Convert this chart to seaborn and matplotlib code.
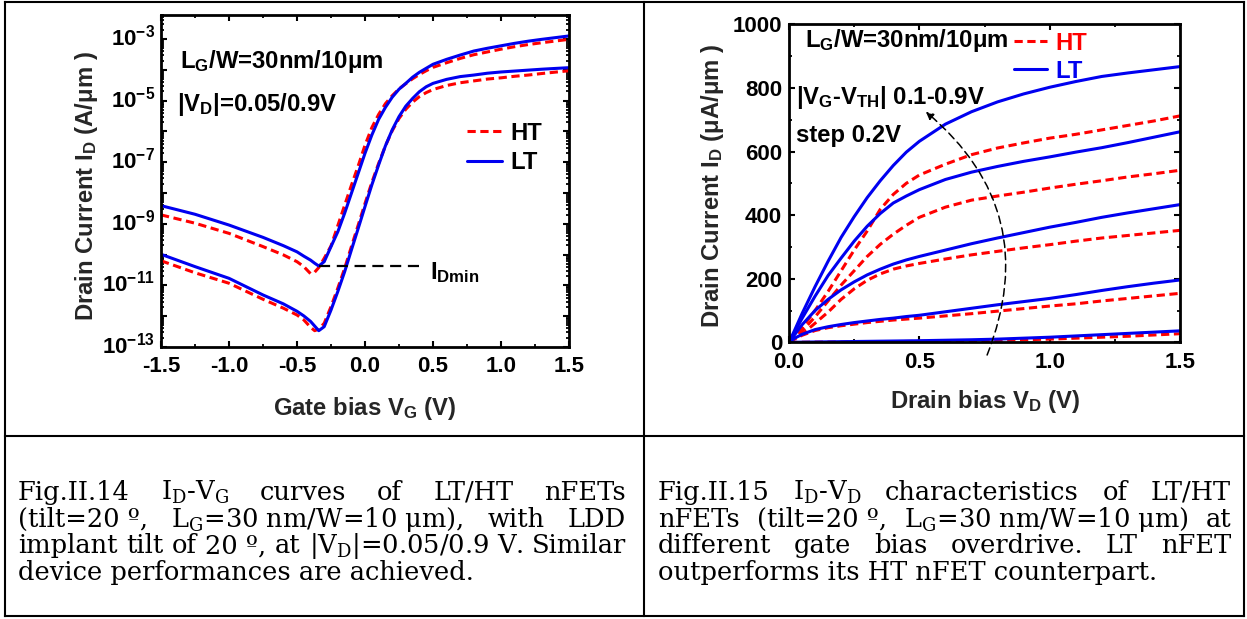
import numpy as np
import pandas as pd
import matplotlib
matplotlib.use("Agg")
import matplotlib.pyplot as plt
import matplotlib.transforms as mtransforms
import seaborn as sns
from matplotlib.lines import Line2D
from matplotlib.ticker import FixedLocator, MultipleLocator, LogLocator, NullFormatter, FixedFormatter

# ---------------- data: I_D - V_G (log10 of A/um) ----------------
vg = [-1.5, -1.25, -1.0, -0.75, -0.6, -0.5, -0.45, -0.4, -0.37, -0.34, -0.3, -0.25,
      -0.2, -0.15, -0.1, -0.05, 0.0, 0.05, 0.1, 0.15, 0.2, 0.25, 0.3, 0.35, 0.4,
      0.45, 0.5, 0.6, 0.7, 0.8, 0.9, 1.0, 1.1, 1.2, 1.3, 1.5]
lt_vd_high = [-8.41, -8.69, -9.04, -9.44, -9.71, -9.91, -10.05, -10.18, -10.28, -10.37,
              -10.23, -9.74, -9.26, -8.66, -8.01, -7.36, -6.71, -6.12, -5.61, -5.22,
              -4.89, -4.63, -4.44, -4.24, -4.08, -3.95, -3.82, -3.66, -3.52, -3.39,
              -3.30, -3.22, -3.14, -3.07, -3.01, -2.90]
ht_vd_high = [-8.71, -8.98, -9.31, -9.74, -10.01, -10.23, -10.39, -10.62, -10.57, -10.42,
              -10.12, -9.72, -9.06, -8.40, -7.75, -7.12, -6.45, -5.88, -5.45, -5.10,
              -4.84, -4.62, -4.45, -4.29, -4.15, -4.03, -3.92, -3.77, -3.63, -3.51,
              -3.42, -3.33, -3.25, -3.18, -3.12, -3.01]
lt_vd_low = [-9.99, -10.39, -10.77, -11.31, -11.60, -11.84, -11.99, -12.17, -12.32, -12.47,
             -12.34, -11.80, -11.20, -10.56, -9.85, -9.15, -8.44, -7.74, -7.09, -6.47,
             -5.95, -5.52, -5.18, -4.93, -4.71, -4.55, -4.44, -4.31, -4.22, -4.17,
             -4.11, -4.07, -4.04, -4.01, -3.98, -3.93]
ht_vd_low = [-10.20, -10.59, -10.93, -11.45, -11.74, -11.96, -12.12, -12.36, -12.47, -12.42,
             -12.23, -11.69, -11.09, -10.45, -9.74, -9.04, -8.34, -7.66, -7.04, -6.47,
             -5.98, -5.58, -5.28, -5.05, -4.87, -4.74, -4.64, -4.51, -4.42, -4.36,
             -4.30, -4.26, -4.21, -4.17, -4.12, -4.03]

# ---------------- data: I_D - V_D (uA/um) ----------------
vd = [0, 0.02, 0.05, 0.1, 0.15, 0.2, 0.25, 0.3, 0.35, 0.4, 0.45, 0.5, 0.6, 0.7, 0.8,
      0.9, 1.0, 1.1, 1.2, 1.3, 1.4, 1.5]
overdrive = [0.9, 0.7, 0.5, 0.3, 0.1]
lt_id = [
    [0, 35, 90, 175, 255, 330, 395, 455, 508, 556, 598, 632, 686, 725, 756, 781, 802, 820, 836, 847, 857, 867],
    [0, 30, 75, 145, 210, 265, 318, 365, 405, 438, 460, 480, 512, 535, 553, 569, 583, 598, 612, 628, 645, 662],
    [0, 22, 55, 100, 135, 165, 190, 212, 230, 246, 259, 270, 290, 310, 328, 345, 362, 377, 393, 407, 420, 433],
    [0, 12, 25, 40, 49, 56, 62, 67, 72, 76, 81, 85, 96, 107, 118, 128, 138, 150, 163, 175, 186, 196],
    [0, 0.2, 0.5, 1, 1.5, 2, 2.5, 3, 3.5, 4, 4.5, 5, 6.5, 8, 10, 13, 16, 20, 24, 28, 32, 36],
]
ht_id = [
    [0, 20, 45, 100, 160, 225, 290, 350, 418, 465, 500, 526, 560, 590, 611, 627, 642, 654, 668, 682, 696, 712],
    [0, 15, 35, 80, 130, 180, 225, 270, 308, 340, 368, 393, 425, 447, 460, 472, 485, 497, 508, 520, 530, 541],
    [0, 10, 25, 60, 95, 135, 168, 195, 215, 230, 240, 248, 262, 275, 286, 297, 307, 318, 328, 336, 344, 352],
    [0, 10, 22, 37, 46, 52, 57, 62, 66, 70, 73, 76, 83, 90, 98, 106, 114, 121, 130, 138, 146, 154],
    [0, 0.1, 0.2, 0.5, 0.8, 1, 1.3, 1.6, 2, 2.3, 2.6, 3, 4, 5, 6.5, 8, 10, 13, 16, 19, 23, 27],
]

# tick labels
vg_ticks = [-1.5, -1.0, -0.5, 0.0, 0.5, 1.0, 1.5]
id_log_exponents = list(range(-13, -2))
id_log_labelled = [-13, -11, -9, -7, -5, -3]
vd_ticks = [0.0, 0.5, 1.0, 1.5]
idlin_ticks = [0, 200, 400, 600, 800, 1000]

# caption text (justified lines as word groups, last line plain)
caption_left = [
    ["Fig.II.14", r"I$_\mathregular{D}$-V$_\mathregular{G}$", "curves", "of", "LT/HT", "nFETs"],
    ["(tilt=20 º,", r"L$_\mathregular{G}$=30 nm/W=10 μm),", "with", "LDD"],
    ["implant", "tilt", "of", "20 º,", "at", r"|V$_\mathregular{D}$|=0.05/0.9 V.", "Similar"],
    "device performances are achieved.",
]
caption_right = [
    ["Fig.II.15", r"I$_\mathregular{D}$-V$_\mathregular{D}$", "characteristics", "of", "LT/HT"],
    ["nFETs", "(tilt=20 º,", r"L$_\mathregular{G}$=30 nm/W=10 μm)", "at"],
    ["different", "gate", "bias", "overdrive.", "LT", "nFET"],
    "outperforms its HT nFET counterpart.",
]

RED = "#ff0000"
BLUE = "#0000f0"

sns.set_theme(style="ticks")
plt.rcParams.update({
    "font.family": ["Liberation Sans", "DejaVu Sans"],
    "font.weight": "bold",
    "axes.unicode_minus": False,
    "mathtext.default": "regular",
    "axes.linewidth": 2.0,
    "axes.edgecolor": "black",
    "xtick.color": "black",
    "ytick.color": "black",
    "text.color": "black",
})

W, H = 1247, 619
fig = plt.figure(figsize=(W / 100, H / 100), dpi=100)
fig.patch.set_facecolor("white")


def px_box(x0, y0, x1, y1):
    return [x0 / W, 1 - y1 / H, (x1 - x0) / W, (y1 - y0) / H]


TICK_FS = 16
LABEL_FS = 17.2

ax1 = fig.add_axes(px_box(161, 15, 569, 347))
ax2 = fig.add_axes(px_box(789, 24.3, 1180, 342.3))

palette = {"HT": RED, "LT": BLUE}
dash_map = {"HT": (2.7, 1.5), "LT": ""}

# ---------------- left: transfer curves ----------------
rows = []
for dev, bias, arr in [("HT", "0.9", ht_vd_high), ("HT", "0.05", ht_vd_low),
                       ("LT", "0.9", lt_vd_high), ("LT", "0.05", lt_vd_low)]:
    for v, e in zip(vg, arr):
        rows.append({"VG": v, "ID": 10.0 ** e, "device": dev, "VD": bias})
df_vg = pd.DataFrame(rows)

sns.lineplot(data=df_vg, x="VG", y="ID", hue="device", style="device", units="VD",
             estimator=None, sort=False, palette=palette, dashes=dash_map,
             hue_order=["HT", "LT"], style_order=["HT", "LT"],
             linewidth=2.2, legend=False, ax=ax1)
ax1.set_yscale("log")
ax1.set_xlim(-1.5, 1.5)
ax1.set_ylim(1e-13, 10 ** -2.22)

ax1.xaxis.set_major_locator(FixedLocator(vg_ticks))
ax1.xaxis.set_minor_locator(MultipleLocator(0.25))
ax1.set_xticklabels([f"{t:.1f}" for t in vg_ticks])
ax1.yaxis.set_major_locator(FixedLocator([10.0 ** e for e in id_log_exponents]))
ax1.yaxis.set_minor_locator(LogLocator(base=10, subs=np.arange(2, 10), numticks=30))
ax1.yaxis.set_minor_formatter(NullFormatter())
ax1.yaxis.set_major_formatter(FixedFormatter(
    [r"10$^{\mathregular{%d}}$" % e if e in id_log_labelled else "" for e in id_log_exponents]))

# I_Dmin marker line from the minimum of the LT high-bias curve
i_min = int(np.argmin(lt_vd_high))
ax1.plot([vg[i_min], 0.41], [10.0 ** lt_vd_high[i_min]] * 2, color="black",
         lw=1.6, dashes=(5, 3))
ax1.text(0.475, 10 ** -10.57, r"I$_\mathregular{Dmin}$", fontsize=LABEL_FS,
         fontweight="bold", va="center", ha="left")

ax1.text(0.047, 0.840, r"L$_\mathregular{G}$/W=30nm/10μm", transform=ax1.transAxes,
         fontsize=LABEL_FS, fontweight="bold", va="baseline")
ax1.text(0.040, 0.712, r"|V$_\mathregular{D}$|=0.05/0.9V", transform=ax1.transAxes,
         fontsize=LABEL_FS, fontweight="bold", va="baseline")

h_ht = Line2D([], [], color=RED, lw=2.2, dashes=(2.7, 1.5))
h_lt = Line2D([], [], color=BLUE, lw=2.2)
ax1.legend([h_ht, h_lt], ["HT", "LT"], loc="center left", bbox_to_anchor=(0.75, 0.599),
           frameon=False, handlelength=1.48, handletextpad=0.35,
           labelspacing=0.28, borderpad=0, borderaxespad=0,
           prop={"weight": "bold", "size": LABEL_FS})

ax1.set_xlabel(r"Gate bias V$_\mathregular{G}$ (V)", fontsize=LABEL_FS, fontweight="bold")
ax1.set_ylabel(r"Drain Current I$_\mathregular{D}$ (A/μm )", fontsize=LABEL_FS,
               fontweight="bold")
ax1.xaxis.set_label_coords(0.5, -0.145)
ax1.yaxis.set_label_coords(-0.15, 0.485)

# ---------------- right: output curves ----------------
rows = []
for dev, sets in [("HT", ht_id), ("LT", lt_id)]:
    for ov, arr in zip(overdrive, sets):
        for v, i in zip(vd, arr):
            rows.append({"VD": v, "ID": i, "device": dev, "VOV": ov})
df_vd = pd.DataFrame(rows)

sns.lineplot(data=df_vd, x="VD", y="ID", hue="device", style="device", units="VOV",
             estimator=None, sort=False, palette=palette, dashes=dash_map,
             hue_order=["HT", "LT"], style_order=["HT", "LT"],
             linewidth=2.2, legend=False, ax=ax2)
ax2.set_xlim(0, 1.5)
ax2.set_ylim(0, 1000)
ax2.xaxis.set_major_locator(FixedLocator(vd_ticks))
ax2.xaxis.set_minor_locator(MultipleLocator(0.25))
ax2.set_xticklabels([f"{t:.1f}" for t in vd_ticks])
ax2.yaxis.set_major_locator(FixedLocator(idlin_ticks))
ax2.yaxis.set_minor_locator(MultipleLocator(100))
ax2.set_yticklabels([str(t) for t in idlin_ticks])

ax2.annotate("", xy=(0.525, 725), xytext=(0.76, -40), annotation_clip=False,
             arrowprops=dict(arrowstyle="-|>", connectionstyle="arc3,rad=0.36",
                             color="black", lw=1.1, linestyle=(0, (5, 3)),
                             mutation_scale=11, shrinkA=0, shrinkB=0))

ax2.text(0.041, 0.928, r"L$_\mathregular{G}$/W=30nm/10μm", transform=ax2.transAxes,
         fontsize=LABEL_FS, fontweight="bold", va="baseline")
ax2.text(0.018, 0.749, r"|V$_\mathregular{G}$-V$_\mathregular{TH}$| 0.1-0.9V",
         transform=ax2.transAxes, fontsize=LABEL_FS, fontweight="bold", va="baseline")
ax2.text(0.018, 0.631, "step 0.2V", transform=ax2.transAxes, fontsize=LABEL_FS,
         fontweight="bold", va="baseline")

ax2.legend([h_ht, h_lt], ["HT", "LT"], loc="center left", bbox_to_anchor=(0.5754, 0.8966),
           frameon=False, handlelength=1.4, handletextpad=0.35, labelspacing=0.22,
           borderpad=0, borderaxespad=0, labelcolor=[RED, BLUE],
           prop={"weight": "bold", "size": LABEL_FS})

ax2.set_xlabel(r"Drain bias V$_\mathregular{D}$ (V)", fontsize=LABEL_FS, fontweight="bold")
ax2.set_ylabel(r"Drain Current I$_\mathregular{D}$ (μA/μm )",
               fontsize=LABEL_FS, fontweight="bold")
ax2.xaxis.set_label_coords(0.501, -0.144)
ax2.yaxis.set_label_coords(-0.161, 0.493)

for ax, xpad, ypad in [(ax1, 6.5, 4.3), (ax2, 7.2, 5)]:
    ax.tick_params(which="both", direction="in", top=True, right=True, colors="black")
    ax.tick_params(which="major", length=4.5, width=1.5, labelsize=TICK_FS)
    ax.tick_params(which="minor", length=2.5, width=1.3)
    ax.tick_params(axis="x", which="major", pad=xpad)
    ax.tick_params(axis="y", which="major", pad=ypad)
    for lab in ax.get_xticklabels() + ax.get_yticklabels():
        lab.set_fontweight("bold")
    for sp in ax.spines.values():
        sp.set_visible(True)
        sp.set_linewidth(2.0)
        sp.set_color("black")
    ax.set_facecolor("white")

# power-of-ten labels: keep the mantissa "10" centred on its tick
lift = mtransforms.ScaledTranslation(0, 0.04, fig.dpi_scale_trans)
for lab in ax1.get_yticklabels():
    lab.set_transform(lab.get_transform() + lift)

# ---------------- table frame ----------------
def hline(x0, x1, y, lw=1.5):
    fig.add_artist(Line2D([x0 / W, x1 / W], [1 - y / H, 1 - y / H], color="black",
                          lw=lw, transform=fig.transFigure, solid_capstyle="projecting"))


def vline(x, y0, y1, lw=1.5):
    fig.add_artist(Line2D([x / W, x / W], [1 - y0 / H, 1 - y1 / H], color="black",
                          lw=lw, transform=fig.transFigure, solid_capstyle="projecting"))


hline(5, 1243.5, 1.5)
hline(5, 1243.5, 615.5)
hline(5, 1243.5, 436)
vline(5, 1.5, 615.5)
vline(1243.5, 1.5, 615.5)
vline(643.5, 1.5, 615.5)

# ---------------- captions ----------------
CAP = dict(family=["DejaVu Serif"], fontsize=18.5,
           fontweight="normal", va="baseline", ha="left")
renderer = fig.canvas.get_renderer()


def caption(lines, x0, x1, baselines):
    for line, yb in zip(lines, baselines):
        if isinstance(line, str):
            fig.text(x0 / W, 1 - yb / H, line, **CAP)
            continue
        items = [fig.text(0, 1 - yb / H, tok, **CAP) for tok in line]
        widths = [t.get_window_extent(renderer).width for t in items]
        gap = (x1 - x0 - sum(widths)) / (len(items) - 1)
        x = x0
        for t, w in zip(items, widths):
            t.set_x(x / W)
            x += w + gap


baselines = [500, 526.7, 553.3, 580]
caption(caption_left, 18, 626, baselines)
caption(caption_right, 658, 1231, baselines)

fig.savefig("out.png", dpi=100, facecolor="white")
